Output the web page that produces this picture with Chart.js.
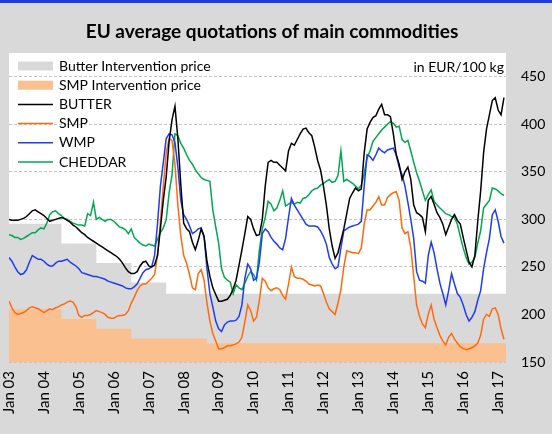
<!DOCTYPE html>
<html>
<head>
<meta charset="utf-8">
<script src="https://cdn.jsdelivr.net/npm/chart.js@4.4.0/dist/chart.umd.min.js"></script>
<style>
html,body{margin:0;padding:0;background:#d9d9d9;}
#wrap{width:552px;height:434px;position:relative;}
</style>
</head>
<body>
<div id="wrap"><canvas id="c" width="552" height="434"></canvas></div>
<script>
// ---- DATA (monthly quotations, Jan 2003 = index 0) ----
const tickLabels = ['Jan 03','Jan 04','Jan 05','Jan 06','Jan 07','Jan 08','Jan 09','Jan 10','Jan 11','Jan 12','Jan 13','Jan 14','Jan 15','Jan 16','Jan 17'];
const yTicks = [150, 200, 250, 300, 350, 400, 450];
const seriesNames = ['BUTTER', 'SMP', 'WMP', 'CHEDDAR'];
const interventionNames = ['Butter Intervention price', 'SMP Intervention price'];
const unitLabel = 'in EUR/100 kg';
const chartTitle = 'EU average quotations of main commodities';

const butter = [300,299,299,299,300,301,303,306,309,310,
 308,306,304,301,298,299,300,301,302,301,
 299,297,294,292,289,286,284,281,279,277,
 275,273,271,269,267,265,263,261,258,254,
 249,245,243,243,245,251,255,256,251,250,
 252,262,290,320,345,382,405,419,385,337,
 296,290,287,276,268,278,290,282,256,240,
 228,221,214,214,215,216,220,227,236,252,
 268,285,303,300,290,283,284,300,335,360,
 362,360,360,357,354,351,372,380,378,384,
 390,395,396,391,388,376,362,352,335,315,
 290,272,259,265,278,290,306,322,328,333,
 330,332,370,395,402,407,409,416,421,410,
 410,408,390,368,358,342,350,355,342,315,
 307,305,302,287,320,324,316,307,302,295,
 284,292,300,305,299,295,281,268,255,250,
 262,298,330,370,395,410,425,428,415,410,
 428];

const smp = [214,207,202,200,201,202,204,207,208,207,
 206,204,202,204,206,205,207,208,210,211,
 213,214,213,208,199,197,199,199,200,202,
 204,203,202,200,197,196,196,198,199,199,
 200,204,212,218,225,230,232,232,235,238,
 242,262,298,335,370,385,383,358,315,283,
 262,254,242,228,226,243,247,236,212,193,
 180,172,164,164,165,167,167,168,169,171,
 176,192,210,204,193,197,215,238,235,228,
 225,227,228,226,220,216,232,250,240,238,
 238,237,235,232,231,230,231,230,222,213,
 206,203,200,212,226,250,267,266,265,265,
 264,270,295,310,310,314,318,324,315,315,
 323,326,328,329,320,291,285,287,270,240,
 210,198,190,186,200,210,195,186,178,172,
 168,176,180,174,170,166,164,163,164,165,
 167,170,178,195,200,198,206,207,200,185,
 174];

const wmp = [260,256,250,245,242,243,247,255,262,260,
 258,258,256,253,251,251,254,256,256,257,
 258,255,253,251,248,244,243,242,241,240,
 240,239,238,237,235,234,233,232,231,230,
 228,227,227,229,232,238,244,247,248,250,
 262,295,335,360,385,390,389,381,355,320,
 305,300,293,285,287,290,291,282,248,222,
 208,193,185,182,189,192,193,193,194,198,
 210,238,253,248,236,238,255,285,290,287,
 281,277,274,270,268,280,302,322,315,310,
 305,300,295,293,293,293,292,288,282,274,
 260,253,248,250,270,288,290,292,293,294,
 295,298,335,368,366,362,368,375,372,370,
 373,374,375,368,355,347,335,318,300,280,
 245,236,235,233,262,276,265,248,233,222,
 210,225,243,232,222,218,210,200,193,197,
 203,215,225,248,265,280,305,310,298,282,
 275];

const cheddar = [284,283,281,281,279,280,282,284,286,286,
 289,291,290,296,305,308,309,306,304,301,
 300,298,296,295,294,294,293,306,304,318,
 300,302,300,298,300,300,298,295,292,291,
 289,285,290,281,278,275,273,272,274,273,
 272,279,286,291,300,328,347,390,388,380,
 375,368,362,358,352,348,344,342,341,340,
 310,292,275,248,239,236,234,222,231,228,
 226,233,240,245,242,236,268,290,302,319,
 316,309,312,320,330,314,316,318,316,318,
 317,322,323,326,330,332,333,336,338,340,
 342,339,340,346,372,340,342,340,338,335,
 332,336,348,365,372,382,386,390,394,397,
 400,403,401,397,398,384,381,383,372,360,
 349,340,330,320,326,331,319,315,312,309,
 306,305,303,302,295,282,270,260,253,255,
 260,275,288,312,316,320,333,332,330,327,
 325];

// intervention prices: month index when each level starts, and the level
const butterInterventionFrom = [0, 18, 30, 42, 54];
const butterInterventionPrice = [295.4, 274.7, 254.2, 233.6, 221.75];
const smpInterventionFrom = [0, 18, 30, 42, 68];
const smpInterventionPrice = [205.5, 195.2, 185.0, 174.7, 169.8];

// ---- BUILD ----
const X_MAX = 170.7;
const toPts = arr => arr.map((v, i) => ({x: i, y: v}));
const stepPts = (from, price) => {
  const p = from.map((m, i) => ({x: m, y: price[i]}));
  p.push({x: X_MAX, y: price[price.length - 1]});
  return p;
};

const FONT = 'Lato';
const colors = {BUTTER: '#000000', SMP: '#ff6a0d', WMP: '#1f3cf5', CHEDDAR: '#00a84f'};
const fillColors = ['#d9d9d9', '#fac090'];

const datasets = [
  {label: interventionNames[0], data: stepPts(butterInterventionFrom, butterInterventionPrice), stepped: 'before',
   fill: 'start', backgroundColor: fillColors[0], borderWidth: 0, pointRadius: 0, order: 20, isFill: true},
  {label: interventionNames[1], data: stepPts(smpInterventionFrom, smpInterventionPrice), stepped: 'before',
   fill: 'start', backgroundColor: fillColors[1], borderWidth: 0, pointRadius: 0, order: 19, isFill: true},
  {label: seriesNames[0], data: toPts(butter), borderColor: colors.BUTTER, order: 1},
  {label: seriesNames[1], data: toPts(smp), borderColor: colors.SMP, order: 3},
  {label: seriesNames[2], data: toPts(wmp), borderColor: colors.WMP, order: 2},
  {label: seriesNames[3], data: toPts(cheddar), borderColor: colors.CHEDDAR, order: 4}
];
datasets.forEach(d => {
  if (!d.isFill) { d.borderWidth = 1.5; d.pointRadius = 0; d.fill = false; d.tension = 0; }
});

const bgPlugin = {
  id: 'bg',
  beforeDraw(chart) {
    const {ctx, chartArea: a} = chart;
    ctx.save();
    ctx.fillStyle = '#d9d9d9';
    ctx.fillRect(0, 0, chart.width, chart.height);
    ctx.fillStyle = '#ffffff';
    ctx.fillRect(a.left, a.top, a.right - a.left, a.bottom - a.top);
    ctx.fillStyle = '#1b3de6';
    ctx.fillRect(0, 0, chart.width, 3);
    // title
    ctx.fillStyle = '#000';
    ctx.font = 'bold 19px ' + FONT;
    ctx.textAlign = 'center';
    ctx.textBaseline = 'alphabetic';
    ctx.fillText(chartTitle, 272, 38);
    ctx.restore();
  }
};

const legendPlugin = {
  id: 'insideLegend',
  afterDraw(chart) {
    const {ctx, chartArea: a} = chart;
    ctx.save();
    ctx.font = '14px ' + FONT;
    ctx.textBaseline = 'middle';
    const x0 = a.left + 9, x1 = a.left + 44, tx = a.left + 50;
    let y = a.top + 13;
    chart.data.datasets.forEach(d => {
      if (d.isFill) {
        ctx.fillStyle = d.backgroundColor;
        ctx.fillRect(x0, y - 4.5, x1 - x0, 9);
      } else {
        ctx.strokeStyle = d.borderColor;
        ctx.lineWidth = 1.5;
        ctx.beginPath();
        ctx.moveTo(x0, y);
        ctx.lineTo(x1, y);
        ctx.stroke();
      }
      ctx.fillStyle = '#000';
      ctx.textAlign = 'left';
      ctx.fillText(d.label, tx, y);
      y += 19.2;
    });
    ctx.textAlign = 'right';
    ctx.fillText(unitLabel, a.right - 2, a.top + 14);
    ctx.restore();
  }
};

new Chart(document.getElementById('c'), {
  type: 'line',
  data: {datasets},
  options: {
    responsive: false,
    devicePixelRatio: 1,
    animation: false,
    layout: {padding: {left: 8, right: 0, top: 53, bottom: 0}},
    plugins: {
      legend: {display: false},
      tooltip: {enabled: false},
      title: {display: false}
    },
    scales: {
      x: {
        type: 'linear', min: 0, max: X_MAX,
        afterBuildTicks: s => { s.ticks = tickLabels.map((_, i) => ({value: i * 12})); },
        afterFit: s => { s.height = 72; },
        grid: {display: false, drawTicks: false},
        border: {display: false},
        ticks: {autoSkip: false, maxRotation: 90, minRotation: 90, padding: 9, color: '#000',
          font: {family: FONT, size: 15},
          callback: (v, i) => tickLabels[i]}
      },
      y: {
        position: 'right', min: 150, max: 475,
        afterBuildTicks: s => { s.ticks = yTicks.map(v => ({value: v})); },
        afterFit: s => { s.width = 46; },
        grid: {color: '#c4c4c4', drawTicks: false, lineWidth: 1},
        border: {display: false, dash: [3, 2]},
        ticks: {padding: 15, color: '#000', font: {family: FONT, size: 14}}
      }
    }
  },
  plugins: [bgPlugin, legendPlugin]
});
</script>
</body>
</html>
